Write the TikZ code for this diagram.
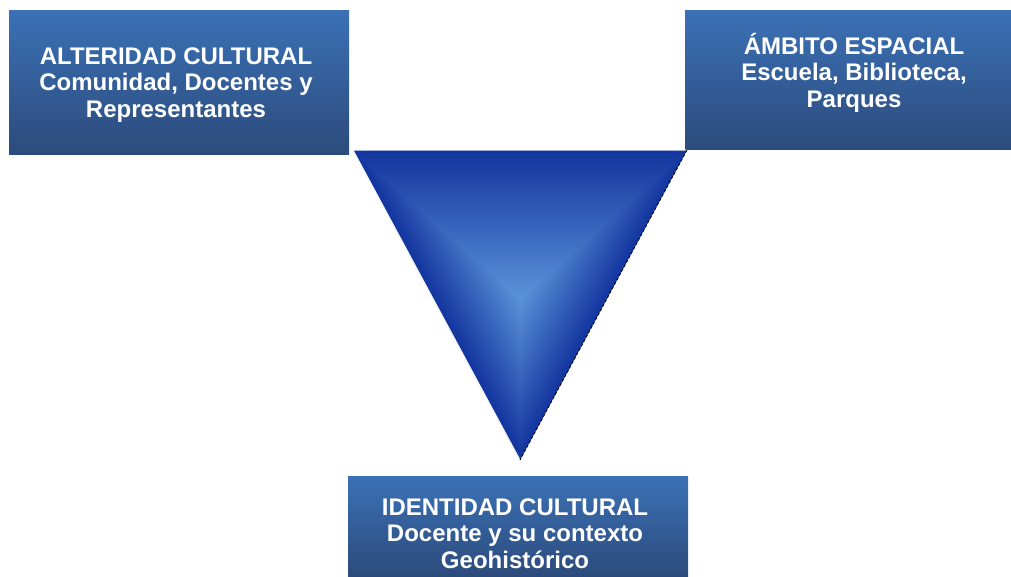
\documentclass[tikz,border=0pt]{standalone}
\usepackage{fontspec}
\setmainfont{Liberation Sans}
\definecolor{boxtop}{HTML}{3B71B6}
\definecolor{boxmid}{HTML}{3667A7}
\definecolor{boxbot}{HTML}{2C4B7C}
\definecolor{tridark}{HTML}{12349E}
\definecolor{trilight}{HTML}{5A91D7}
\begin{document}
\begin{tikzpicture}[x=1pt,y=-1pt,
  box/.style={rectangle, inner sep=0pt, outer sep=0pt, anchor=north west,
    top color=boxtop, middle color=boxmid, bottom color=boxbot},
  lbl/.style={text=white, align=center, anchor=base,
    font=\fontsize{24}{26.2}\selectfont\bfseries, inner sep=0pt}]
\useasboundingbox (0,0) rectangle (1011,576);
% boxes
\node[box, minimum width=340, minimum height=144] (alt) at (9,10) {};
\node[box, minimum width=326, minimum height=139] (amb) at (685,10) {};
\node[box, minimum width=340, minimum height=100] (ide) at (348,476) {};
% triangle corners
\coordinate (tl) at (353,150);
\coordinate (tr) at (687,150);
\coordinate (bt) at (520,460);
\coordinate (cc) at (520,296);
% base fill to hide seams
\fill[tridark!45!trilight] (tl) -- (tr) -- (bt) -- cycle;
% left facet
\begin{scope}
  \clip (tl) -- (bt) -- (cc) -- cycle;
  \begin{scope}[transform canvas={shift={(tl)}, rotate=-61.69}]
    \shade[bottom color=tridark, top color=trilight] (-20pt,0pt) rectangle (380pt,75.9pt);
  \end{scope}
\end{scope}
% right facet
\begin{scope}
  \clip (bt) -- (tr) -- (cc) -- cycle;
  \begin{scope}[transform canvas={shift={(bt)}, rotate=61.69}]
    \shade[bottom color=tridark, top color=trilight] (-20pt,0pt) rectangle (380pt,75.9pt);
  \end{scope}
\end{scope}
% top facet (slightly overlapping the meeting point)
\begin{scope}
  \clip (tl) -- (tr) -- (521.5,298.5) -- (518.5,298.5) -- cycle;
  \shade[top color=tridark, bottom color=trilight] (350,150) rectangle (690,296);
  \fill[trilight] (500,296) rectangle (540,300);
\end{scope}
% edges
\draw[white!92!gray, line width=1pt] (tr) -- (tl) -- (bt);
\draw[black, line width=0.8pt, densely dashed] (tr) -- (bt);
% texts (base anchor = last line baseline)
\node[lbl] (altT) at (176,117) {ALTERIDAD CULTURAL\\Comunidad, Docentes y\\Representantes};
\node[lbl] (ambT) at (854,107) {ÁMBITO ESPACIAL\\Escuela, Biblioteca,\\Parques};
\node[lbl] (ideT) at (515,568) {IDENTIDAD CULTURAL\\Docente y su contexto\\Geohistórico};
\end{tikzpicture}
\end{document}
